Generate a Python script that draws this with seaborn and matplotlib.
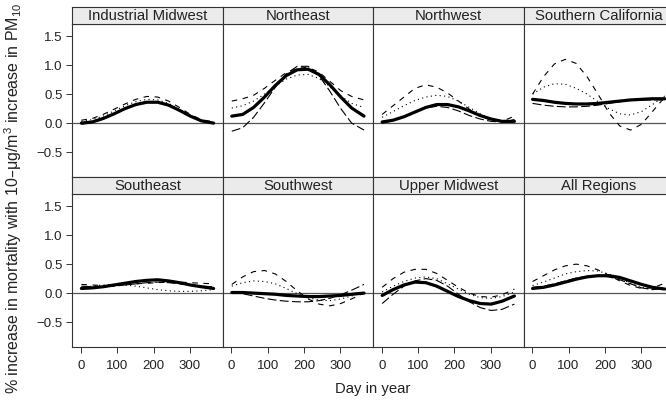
import matplotlib
matplotlib.use("Agg")
import matplotlib.pyplot as plt
import seaborn as sns
import pandas as pd

# ---------------- data ----------------
regions = ["Industrial Midwest", "Northeast", "Northwest", "Southern California",
           "Southeast", "Southwest", "Upper Midwest", "All Regions"]
days = [1, 31, 61, 91, 121, 151, 181, 211, 241, 271, 301, 331, 365]

# thick solid line
solid = [
    [0.00, 0.02, 0.08, 0.16, 0.25, 0.32, 0.36, 0.36, 0.31, 0.22, 0.12, 0.04, 0.00],
    [0.12, 0.15, 0.27, 0.45, 0.65, 0.82, 0.92, 0.93, 0.84, 0.66, 0.45, 0.26, 0.12],
    [0.02, 0.05, 0.11, 0.19, 0.27, 0.32, 0.32, 0.28, 0.21, 0.13, 0.07, 0.03, 0.03],
    [0.41, 0.39, 0.36, 0.34, 0.33, 0.33, 0.34, 0.36, 0.38, 0.40, 0.41, 0.42, 0.42],
    [0.08, 0.09, 0.11, 0.14, 0.17, 0.20, 0.22, 0.23, 0.21, 0.18, 0.14, 0.11, 0.08],
    [0.01, 0.01, 0.00, -0.01, -0.02, -0.04, -0.05, -0.06, -0.06, -0.05, -0.04, -0.02, 0.00],
    [-0.04, 0.06, 0.14, 0.19, 0.18, 0.12, 0.03, -0.06, -0.13, -0.18, -0.19, -0.14, -0.05],
    [0.08, 0.10, 0.14, 0.19, 0.24, 0.28, 0.30, 0.30, 0.27, 0.21, 0.15, 0.10, 0.07],
]
# short-dashed line
dashed = [
    [0.05, 0.08, 0.15, 0.24, 0.33, 0.41, 0.46, 0.45, 0.38, 0.27, 0.15, 0.06, 0.02],
    [0.38, 0.42, 0.48, 0.60, 0.74, 0.87, 0.95, 0.96, 0.88, 0.72, 0.56, 0.46, 0.40],
    [0.15, 0.30, 0.45, 0.60, 0.66, 0.62, 0.52, 0.38, 0.24, 0.12, 0.05, 0.03, 0.12],
    [0.50, 0.80, 1.02, 1.10, 1.03, 0.80, 0.50, 0.18, -0.05, -0.12, -0.02, 0.20, 0.45],
    [0.15, 0.14, 0.13, 0.13, 0.14, 0.16, 0.17, 0.18, 0.19, 0.19, 0.18, 0.17, 0.16],
    [0.15, 0.28, 0.37, 0.39, 0.33, 0.20, 0.04, -0.10, -0.19, -0.22, -0.18, -0.10, 0.00],
    [0.10, 0.25, 0.36, 0.41, 0.41, 0.34, 0.22, 0.10, 0.00, -0.06, -0.07, -0.03, 0.07],
    [0.20, 0.30, 0.40, 0.47, 0.50, 0.47, 0.40, 0.31, 0.21, 0.13, 0.08, 0.09, 0.17],
]
# dotted line
dotted = [
    [0.03, 0.06, 0.12, 0.21, 0.30, 0.37, 0.41, 0.40, 0.34, 0.24, 0.13, 0.05, 0.01],
    [0.26, 0.30, 0.38, 0.50, 0.64, 0.76, 0.83, 0.84, 0.77, 0.63, 0.47, 0.34, 0.27],
    [0.10, 0.20, 0.30, 0.39, 0.45, 0.48, 0.46, 0.38, 0.27, 0.16, 0.07, 0.03, 0.05],
    [0.50, 0.62, 0.68, 0.67, 0.60, 0.50, 0.37, 0.25, 0.16, 0.14, 0.20, 0.32, 0.47],
    [0.10, 0.12, 0.14, 0.15, 0.14, 0.12, 0.09, 0.06, 0.04, 0.03, 0.03, 0.04, 0.06],
    [0.12, 0.18, 0.21, 0.20, 0.16, 0.08, -0.01, -0.08, -0.12, -0.13, -0.10, -0.05, 0.02],
    [0.02, 0.12, 0.20, 0.26, 0.28, 0.25, 0.16, 0.07, -0.02, -0.08, -0.09, -0.06, 0.02],
    [0.13, 0.19, 0.26, 0.33, 0.37, 0.39, 0.38, 0.33, 0.25, 0.17, 0.10, 0.07, 0.08],
]
# long-dashed line
longdash = [
    [-0.02, 0.01, 0.07, 0.15, 0.25, 0.33, 0.37, 0.37, 0.32, 0.23, 0.12, 0.03, -0.01],
    [-0.14, -0.08, 0.10, 0.35, 0.62, 0.85, 0.98, 0.98, 0.82, 0.55, 0.25, 0.00, -0.12],
    [0.00, 0.04, 0.11, 0.19, 0.26, 0.29, 0.27, 0.21, 0.13, 0.07, 0.03, 0.02, 0.06],
    [0.34, 0.31, 0.29, 0.28, 0.28, 0.29, 0.31, 0.34, 0.37, 0.39, 0.40, 0.40, 0.40],
    [0.12, 0.11, 0.11, 0.12, 0.14, 0.16, 0.18, 0.19, 0.18, 0.16, 0.14, 0.12, 0.11],
    [0.03, -0.01, -0.05, -0.09, -0.12, -0.14, -0.15, -0.15, -0.13, -0.09, -0.03, 0.05, 0.15],
    [-0.18, -0.02, 0.12, 0.21, 0.25, 0.22, 0.12, -0.02, -0.15, -0.25, -0.30, -0.28, -0.19],
    [0.10, 0.12, 0.16, 0.21, 0.26, 0.29, 0.30, 0.28, 0.23, 0.16, 0.09, 0.06, 0.08],
]
x_ticks = [0, 100, 200, 300]
y_ticks = [-0.5, 0.0, 0.5, 1.0, 1.5]

# ---------------- styling ----------------
sns.set_style("white")
plt.rcParams["font.family"] = ["Liberation Sans", "DejaVu Sans"]
plt.rcParams["mathtext.default"] = "regular"
plt.rcParams["axes.unicode_minus"] = True

W, H = 666, 400
fig = plt.figure(figsize=(W / 100, H / 100), dpi=100)

def px_axes(x0, y0, w, h):
    return fig.add_axes([x0 / W, 1 - (y0 + h) / H, w / W, h / H])

col_left = [72.3, 222.7, 373.1, 523.5]
pw = 150.4
row_top = [24, 194]
ph = 153
strip_h = 17

edge = "#333333"
line_styles = [
    (solid, "-", 2.3),
    (dashed, (0, (5, 5)), 0.8),
    (dotted, (0, (1, 3)), 0.8),
    (longdash, (0, (8, 3)), 0.8),
]

for i, reg in enumerate(regions):
    r, c = divmod(i, 4)
    ax = px_axes(col_left[c], row_top[r], pw, ph)
    ax.axhline(0, color="#555555", lw=0.9, zorder=1)
    for series, ls, lw in line_styles[::-1]:
        df = pd.DataFrame({"day": days, "val": series[i]})
        sns.lineplot(data=df, x="day", y="val", ax=ax, color="black",
                     linestyle=ls, linewidth=lw, zorder=3 if ls == "-" else 2)
    ax.set_xlim(-24, 390)
    ax.set_ylim(-0.93, 1.71)
    ax.set_xlabel("")
    ax.set_ylabel("")
    for s in ax.spines.values():
        s.set_color(edge)
        s.set_linewidth(0.8)
    ax.set_xticks(x_ticks)
    ax.set_yticks(y_ticks)
    ax.tick_params(axis="both", direction="out", length=4.5, width=0.7,
                   color=edge, labelsize=9.5, labelcolor="#222222")
    ax.tick_params(axis="x", pad=5)
    ax.tick_params(axis="y", pad=2.5)
    if r == 0:
        ax.tick_params(axis="x", bottom=False, labelbottom=False)
    else:
        ax.tick_params(axis="x", bottom=True, labelbottom=True)
    if c == 0:
        ax.tick_params(axis="y", left=True, labelleft=True)
        ax.set_yticklabels(["\u22120.5", "0.0", "0.5", "1.0", "1.5"])
    else:
        ax.tick_params(axis="y", left=False, labelleft=False)

    # strip
    sax = px_axes(col_left[c], row_top[r] - strip_h, pw, strip_h)
    sax.set_facecolor("#ebebeb")
    sax.set_xticks([])
    sax.set_yticks([])
    for s in sax.spines.values():
        s.set_color(edge)
        s.set_linewidth(0.8)
    sax.text(0.5, 0.47, reg, ha="center", va="center", fontsize=10.7,
             color="#222222", transform=sax.transAxes)

fig.text(373 / W, 1 - 389 / H, "Day in year", ha="center", va="center",
         fontsize=10.7, color="#222222")
fig.text(13 / W, 1 - 198 / H,
         "% increase in mortality with 10\u2013\u03bcg/m$^3$ increase in PM$_{10}$",
         ha="center", va="center", rotation=90, fontsize=11.5, color="#222222")

fig.savefig("out.png", dpi=100, facecolor="white")
